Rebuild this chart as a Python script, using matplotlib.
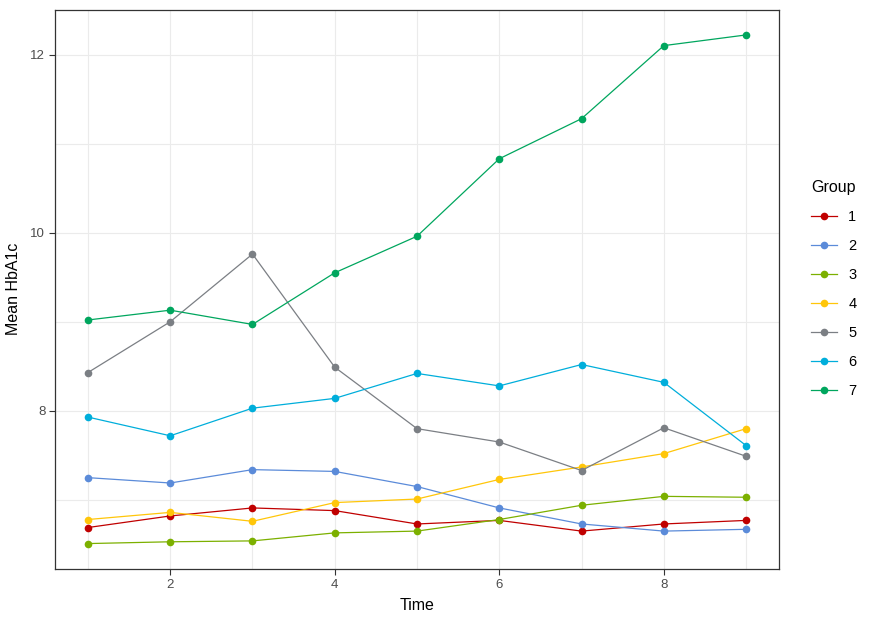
import numpy as np
import matplotlib.pyplot as plt

plt.rcParams['font.family'] = ['Liberation Sans', 'DejaVu Sans']

# time points and group means
time = [1, 2, 3, 4, 5, 6, 7, 8, 9]
groups = ['1', '2', '3', '4', '5', '6', '7']

g1 = [6.69, 6.82, 6.91, 6.88, 6.73, 6.77, 6.65, 6.73, 6.77]
g2 = [7.25, 7.19, 7.34, 7.32, 7.15, 6.91, 6.73, 6.65, 6.67]
g3 = [6.51, 6.53, 6.54, 6.63, 6.65, 6.78, 6.94, 7.04, 7.03]
g4 = [6.78, 6.86, 6.76, 6.97, 7.01, 7.23, 7.37, 7.52, 7.80]
g5 = [8.43, 9.00, 9.76, 8.49, 7.80, 7.65, 7.33, 7.81, 7.49]
g6 = [7.93, 7.72, 8.03, 8.14, 8.42, 8.28, 8.52, 8.32, 7.61]
g7 = [9.02, 9.13, 8.97, 9.55, 9.96, 10.83, 11.28, 12.10, 12.22]
series = [g1, g2, g3, g4, g5, g6, g7]

colors = ['#C00000', '#5B8BD9', '#7CB000', '#FFC60A', '#7B7F84', '#00AEDB', '#00A65E']

fig = plt.figure(figsize=(8.75, 6.25), dpi=100)
ax = fig.add_axes([0.0629, 0.0896, 0.8274, 0.8952])

for vals, col, name in zip(series, colors, groups):
    ax.plot(time, vals, color=col, linewidth=0.9, marker='o', markersize=5.5,
            markeredgewidth=0, label=name)

# ggplot-style limits (5% expansion)
allv = np.concatenate(series)
yr = allv.max() - allv.min()
ax.set_ylim(allv.min() - 0.05 * yr, allv.max() + 0.05 * yr)
ax.set_xlim(0.6, 9.4)

ax.set_xticks([2, 4, 6, 8])
ax.set_yticks([8, 10, 12])
ax.set_xticks([1, 3, 5, 7, 9], minor=True)
ax.set_yticks([7, 9, 11], minor=True)
ax.grid(True, which='both', color='#EBEBEB', linewidth=0.8)
ax.set_axisbelow(True)
ax.tick_params(which='major', direction='out', length=4, width=0.8, color='#333333',
               labelsize=9.5, labelcolor='#4D4D4D', pad=3)
ax.tick_params(which='minor', length=0)
for s in ax.spines.values():
    s.set_color('#333333')
    s.set_linewidth(0.9)

ax.set_xlabel('Time', fontsize=11.5, labelpad=5)
ax.set_ylabel('Mean HbA1c', fontsize=11.5, labelpad=7)

leg = fig.legend(loc='upper left', bbox_to_anchor=(0.912, 0.733), frameon=False,
                 title='Group', fontsize=10.5, title_fontsize=11.5, handlelength=1.8,
                 labelspacing=1.03, handletextpad=0.75, alignment='left')

plt.savefig('out.png', dpi=100)
